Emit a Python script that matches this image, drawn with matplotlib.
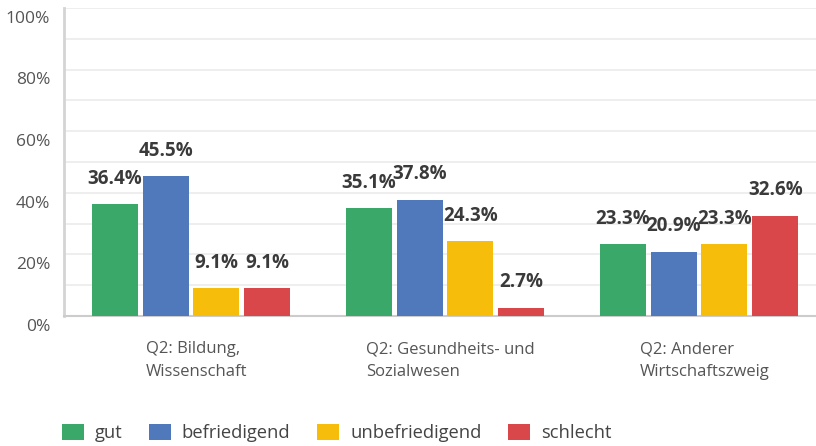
import matplotlib
matplotlib.use("Agg")
import matplotlib.pyplot as plt
import numpy as np
from matplotlib.patches import FancyBboxPatch
from matplotlib.legend_handler import HandlerPatch
import matplotlib.transforms as mtransforms

categories = ["Q2: Bildung,\nWissenschaft",
              "Q2: Gesundheits- und\nSozialwesen",
              "Q2: Anderer\nWirtschaftszweig"]
series = ["gut", "befriedigend", "unbefriedigend", "schlecht"]
values = {
    "gut": [36.4, 35.1, 23.3],
    "befriedigend": [45.5, 37.8, 20.9],
    "unbefriedigend": [9.1, 24.3, 23.3],
    "schlecht": [9.1, 2.7, 32.6],
}
colors = ["#39a869", "#4f79ba", "#f6bd0a", "#d9474b"]
yticks = [0, 20, 40, 60, 80, 100]

plt.rcParams["font.family"] = ["Open Sans", "DejaVu Sans"]

fig = plt.figure(figsize=(8.16, 4.46), dpi=100)
ax = fig.add_axes([64 / 816, 130 / 446, 752 / 816, 308 / 446])

x = np.arange(len(categories))
step = 0.2
width = 0.181
for i, (name, col) in enumerate(zip(series, colors)):
    pos = x + (i - 1.5) * step
    ax.bar(pos, values[name], width, color=col, label=name, zorder=3)
    for px, v in zip(pos, values[name]):
        ax.annotate(f"{v}%", (px, v), xytext=(0, 11), textcoords="offset points",
                    ha="center", va="bottom", fontsize=13.5, fontweight="bold",
                    color="#3a3a3a", zorder=4)

ax.set_xlim(-0.5, -0.5 + 752 / 254)
ax.set_ylim(0, 100)
ax.set_yticks(yticks)
ax.set_yticklabels([f"{t}%" for t in yticks])
ax.set_yticks(np.arange(10, 100, 20), minor=True)
ax.yaxis.grid(True, which="both", color="#ebebeb", linewidth=1.2, zorder=0)
ax.tick_params(axis="y", which="both", length=0, pad=10, labelsize=12.5,
               labelcolor="#555555")
shift = mtransforms.ScaledTranslation(0, -2 / 72, fig.dpi_scale_trans)
for lab in ax.get_yticklabels():
    lab.set_va("top")
    lab.set_transform(lab.get_transform() + shift)

ax.set_xticks(x)
ax.set_xticklabels(categories, multialignment="left", linespacing=1.55)
ax.tick_params(axis="x", length=0, pad=18, labelsize=12, labelcolor="#555555")
shiftx = mtransforms.ScaledTranslation(4 / 72, 0, fig.dpi_scale_trans)
for lab in ax.get_xticklabels():
    lab.set_transform(lab.get_transform() + shiftx)

for s in ["top", "right"]:
    ax.spines[s].set_visible(False)
ax.spines["left"].set_color("#d4d4d4")
ax.spines["left"].set_linewidth(2)
ax.spines["bottom"].set_color("#cccccc")
ax.spines["bottom"].set_linewidth(1.5)


class RoundBox(HandlerPatch):
    def create_artists(self, legend, orig, xd, yd, w, h, fontsize, trans):
        s = h * 1.45
        p = FancyBboxPatch((xd + (w - s) / 2, yd + (h - s) / 2), s, s,
                           boxstyle="round,pad=0,rounding_size=%f" % (s * 0.2),
                           facecolor=orig.get_facecolor(), edgecolor="none",
                           transform=trans)
        return [p]


handles, labels = ax.get_legend_handles_labels()
fig.legend(handles, labels, loc="center left", bbox_to_anchor=(45 / 816, 1 - 433 / 446),
           ncol=4, frameon=False, fontsize=13.2, labelcolor="#444444",
           handlelength=1.2, handleheight=1.0, handletextpad=0.6, columnspacing=1.45,
           handler_map={matplotlib.patches.Rectangle: RoundBox()})

fig.savefig("out.png", dpi=100)
